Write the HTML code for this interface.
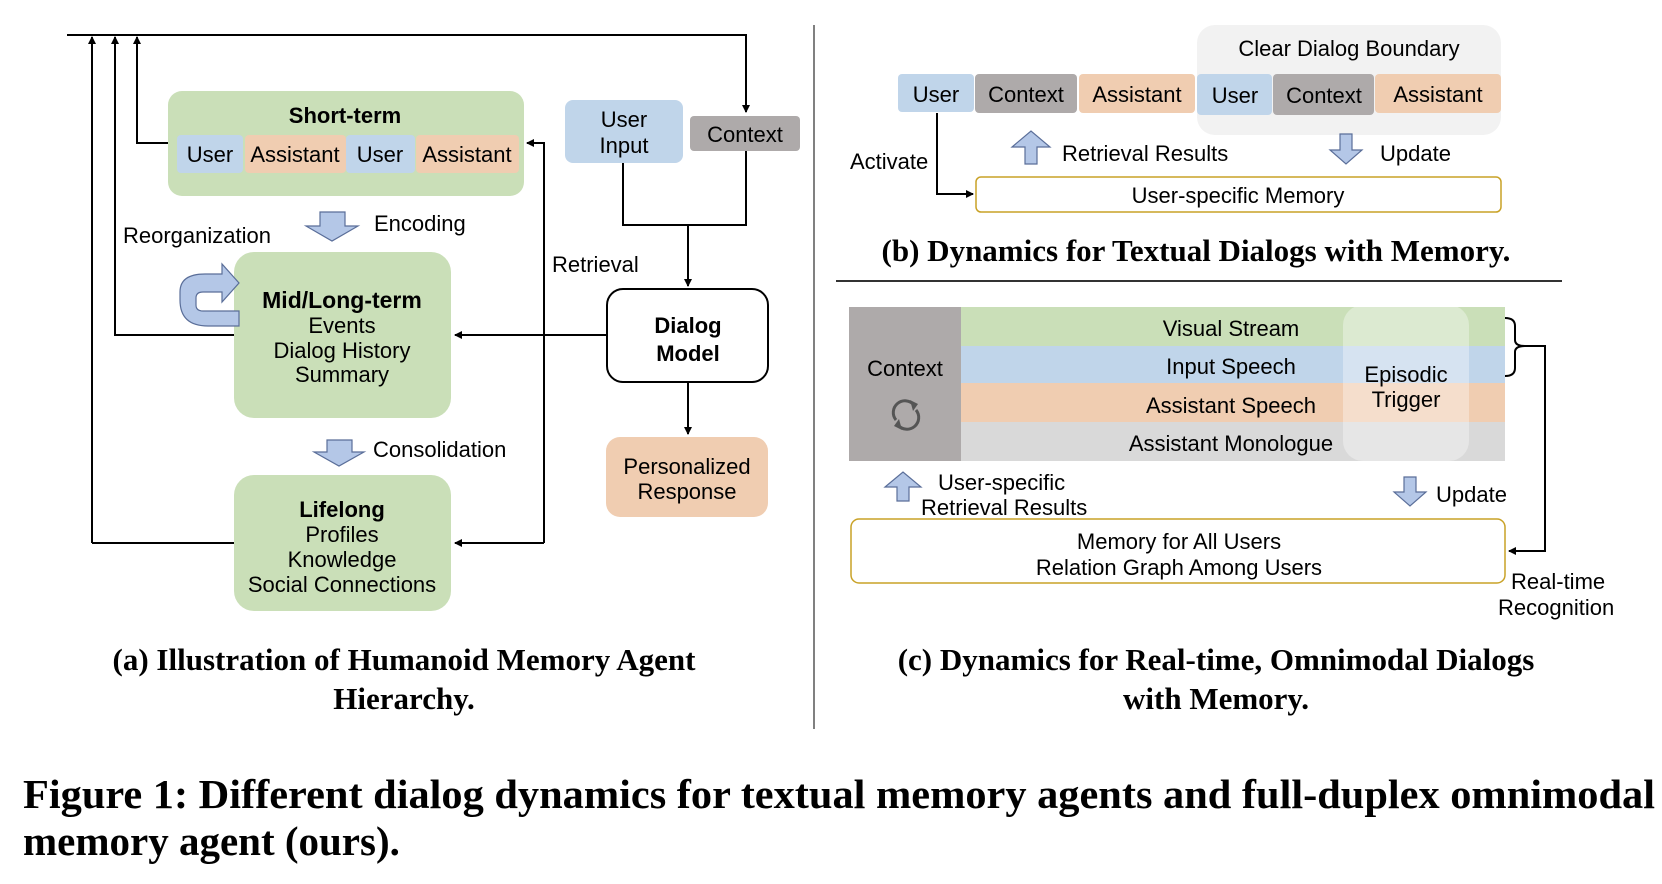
<!DOCTYPE html>
<html><head><meta charset="utf-8"><style>
html,body{margin:0;padding:0;background:#fff;}
svg{display:block;}
.t{font-family:"Liberation Sans",sans-serif;font-size:22px;fill:#000;}
.b{font-weight:bold;}
.cap{font-family:"Liberation Serif",serif;font-weight:bold;font-size:31px;fill:#000;}
.fig{font-family:"Liberation Serif",serif;font-weight:bold;font-size:41px;fill:#000;}
</style></head><body>
<svg width="1662" height="884" viewBox="0 0 1662 884" xmlns="http://www.w3.org/2000/svg">
<defs>
<marker id="ah" markerWidth="8" markerHeight="8" refX="7" refY="4" orient="auto" markerUnits="userSpaceOnUse">
<path d="M0,0 L8,4 L0,8 z" fill="#000"/></marker>
</defs>
<g fill="none" stroke="#000" stroke-width="2">
<path d="M67,35 H746 V112" marker-end="url(#ah)"/>
<path d="M92,543 V37" marker-end="url(#ah)"/>
<path d="M234,543 H92"/>
<path d="M234,335 H115 V37" marker-end="url(#ah)"/>
<path d="M168,143 H137 V37" marker-end="url(#ah)"/>
<path d="M544,543 V143 H527" marker-end="url(#ah)"/>
<path d="M544,543 H455" marker-end="url(#ah)"/>
<path d="M607,335 H455" marker-end="url(#ah)"/>
<path d="M623,163 V225 H746 V151"/>
<path d="M688,225 V286" marker-end="url(#ah)"/>
<path d="M688,382 V434" marker-end="url(#ah)"/>
<path d="M937,113 V194 H973" marker-end="url(#ah)"/>
<path d="M1505,318 Q1515,318 1515,326 V340 Q1515,346 1525,346 Q1515,346 1515,352 V368 Q1515,376 1505,376"/>
<path d="M1525,346 H1545 V551 H1509" marker-end="url(#ah)"/>
</g>
<line x1="814" y1="25" x2="814" y2="729" stroke="#000" stroke-width="1"/>
<line x1="836" y1="281" x2="1562" y2="281" stroke="#333" stroke-width="2"/>

<!-- (a) -->
<rect x="168" y="91" width="356" height="105" rx="14" fill="#cadfb8"/>
<text class="t b" x="345" y="123" text-anchor="middle" font-size="26">Short-term</text>
<rect x="177" y="135" width="66" height="38" rx="4" fill="#c0d5ea"/>
<rect x="245" y="135" width="101" height="38" rx="4" fill="#f0cdb1"/>
<rect x="346" y="135" width="69" height="38" rx="4" fill="#c0d5ea"/>
<rect x="416" y="135" width="103" height="38" rx="4" fill="#f0cdb1"/>
<g class="t" text-anchor="middle" font-size="19">
<text x="210" y="162">User</text><text x="295" y="162">Assistant</text>
<text x="380" y="162">User</text><text x="467" y="162">Assistant</text>
</g>
<rect x="565" y="100" width="118" height="63" rx="8" fill="#c0d5ea"/>
<text class="t" x="624" y="127" text-anchor="middle">User</text>
<text class="t" x="624" y="153" text-anchor="middle">Input</text>
<rect x="690" y="116" width="110" height="35" rx="4" fill="#aeaaaa"/>
<text class="t" x="745" y="142" text-anchor="middle">Context</text>
<rect x="607" y="289" width="161" height="93" rx="16" fill="#fff" stroke="#000" stroke-width="2"/>
<text class="t b" x="688" y="333" text-anchor="middle" font-size="27">Dialog</text>
<text class="t b" x="688" y="361" text-anchor="middle" font-size="27">Model</text>
<path d="M320,212 H345 V226 H358 L332,241 L306,226 H320 Z" fill="#b4c7e7" stroke="#5a6e99" stroke-width="1.2"/>
<text class="t" x="374" y="231">Encoding</text>
<text class="t" x="123" y="243">Reorganization</text>
<text class="t" x="552" y="272">Retrieval</text>
<rect x="234" y="252" width="217" height="166" rx="20" fill="#cadfb8"/>
<path d="M239,326 H208 Q180,326 180,300 V292 Q180,274 205,274 H222 V264 L239,283 L222,302 V292 H203 Q196,292 196,298 V305 Q196,311 203,311 H239 Z" fill="#b4c7e7" stroke="#5a6e99" stroke-width="1.2"/>
<g class="t" text-anchor="middle">
<text class="b" x="342" y="308" font-size="23">Mid/Long-term</text>
<text x="342" y="333">Events</text>
<text x="342" y="358">Dialog History</text>
<text x="342" y="382">Summary</text>
</g>
<path d="M327,440 H352 V452 H364 L339,466 L314,452 H327 Z" fill="#b4c7e7" stroke="#5a6e99" stroke-width="1.2"/>
<text class="t" x="373" y="457">Consolidation</text>
<rect x="234" y="475" width="217" height="136" rx="20" fill="#cadfb8"/>
<g class="t" text-anchor="middle">
<text class="b" x="342" y="517">Lifelong</text>
<text x="342" y="542">Profiles</text>
<text x="342" y="567">Knowledge</text>
<text x="342" y="592">Social Connections</text>
</g>
<rect x="606" y="437" width="162" height="80" rx="14" fill="#f0cdb1"/>
<text class="t" x="687" y="474" text-anchor="middle">Personalized</text>
<text class="t" x="687" y="499" text-anchor="middle">Response</text>
<text class="cap" x="404" y="670" text-anchor="middle">(a) Illustration of Humanoid Memory Agent</text>
<text class="cap" x="404" y="709" text-anchor="middle">Hierarchy.</text>

<!-- (b) -->
<rect x="1197" y="25" width="304" height="110" rx="18" fill="#f2f2f2"/>
<text class="t" x="1349" y="56" text-anchor="middle">Clear Dialog Boundary</text>
<rect x="898" y="74" width="76" height="38" rx="4" fill="#c0d5ea"/>
<rect x="975" y="74" width="102" height="39" rx="4" fill="#aeaaaa"/>
<rect x="1079" y="74" width="116" height="39" rx="4" fill="#f0cdb1"/>
<rect x="1197" y="74" width="75" height="41" rx="4" fill="#c0d5ea"/>
<rect x="1273" y="74" width="101" height="41" rx="4" fill="#aeaaaa"/>
<rect x="1375" y="74" width="126" height="39" rx="4" fill="#f0cdb1"/>
<g class="t" text-anchor="middle">
<text x="936" y="102">User</text><text x="1026" y="102">Context</text><text x="1137" y="102">Assistant</text>
<text x="1235" y="103">User</text><text x="1324" y="103">Context</text><text x="1438" y="102">Assistant</text>
</g>
<text class="t" x="850" y="169">Activate</text>
<path d="M1025,164 V147 H1012 L1031,131 L1050,147 H1037 V164 Z" fill="#b4c7e7" stroke="#5a6e99" stroke-width="1.2"/>
<text class="t" x="1062" y="161">Retrieval Results</text>
<path d="M1340,134 H1352 V150 H1362 L1346,164 L1330,150 H1340 Z" fill="#b4c7e7" stroke="#5a6e99" stroke-width="1.2"/>
<text class="t" x="1380" y="161">Update</text>
<rect x="976" y="177" width="525" height="35" rx="5" fill="#fff" stroke="#c9a227" stroke-width="1.5"/>
<text class="t" x="1238" y="203" text-anchor="middle">User-specific Memory</text>
<text class="cap" x="1196" y="261" text-anchor="middle">(b) Dynamics for Textual Dialogs with Memory.</text>

<!-- (c) -->
<rect x="849" y="307" width="112" height="154" fill="#aeaaaa"/>
<rect x="961" y="307" width="544" height="39" fill="#cadfb8"/>
<rect x="961" y="346" width="544" height="37" fill="#c0d5ea"/>
<rect x="961" y="383" width="544" height="39" fill="#f0cdb1"/>
<rect x="961" y="422" width="544" height="39" fill="#d9d9d9"/>
<rect x="1343" y="305" width="126" height="156" rx="20" fill="#fff" fill-opacity="0.35"/>
<g class="t" text-anchor="middle">
<text x="905" y="376">Context</text>
<text x="1231" y="336">Visual Stream</text>
<text x="1231" y="374">Input Speech</text>
<text x="1231" y="413">Assistant Speech</text>
<text x="1231" y="451">Assistant Monologue</text>
<text x="1406" y="382">Episodic</text>
<text x="1406" y="407">Trigger</text>
</g>
<g fill="none" stroke="#555" stroke-width="3">
<path d="M896,420 A11,11 0 0 1 914,405"/>
<path d="M916,410 A11,11 0 0 1 898,425"/>
</g>
<path d="M910,400 L918,404 L913,411 Z" fill="#555"/>
<path d="M902,430 L894,426 L899,419 Z" fill="#555"/>
<path d="M897,501 V487 H885 L903,472 L921,487 H909 V501 Z" fill="#b4c7e7" stroke="#5a6e99" stroke-width="1.2"/>
<text class="t" x="938" y="490">User-specific</text>
<text class="t" x="921" y="515">Retrieval Results</text>
<path d="M1404,477 H1416 V492 H1426 L1410,506 L1394,492 H1404 Z" fill="#b4c7e7" stroke="#5a6e99" stroke-width="1.2"/>
<text class="t" x="1436" y="502">Update</text>
<rect x="851" y="519" width="654" height="64" rx="8" fill="#fff" stroke="#c9a227" stroke-width="1.5"/>
<text class="t" x="1179" y="549" text-anchor="middle">Memory for All Users</text>
<text class="t" x="1179" y="575" text-anchor="middle">Relation Graph Among Users</text>
<text class="t" x="1511" y="589">Real-time</text>
<text class="t" x="1498" y="615">Recognition</text>
<text class="cap" x="1216" y="670" text-anchor="middle">(c) Dynamics for Real-time, Omnimodal Dialogs</text>
<text class="cap" x="1216" y="709" text-anchor="middle">with Memory.</text>

<text class="fig" x="23" y="808" textLength="1632" lengthAdjust="spacingAndGlyphs">Figure 1: Different dialog dynamics for textual memory agents and full-duplex omnimodal</text>
<text class="fig" x="23" y="855">memory agent (ours).</text>
</svg>
</body></html>
